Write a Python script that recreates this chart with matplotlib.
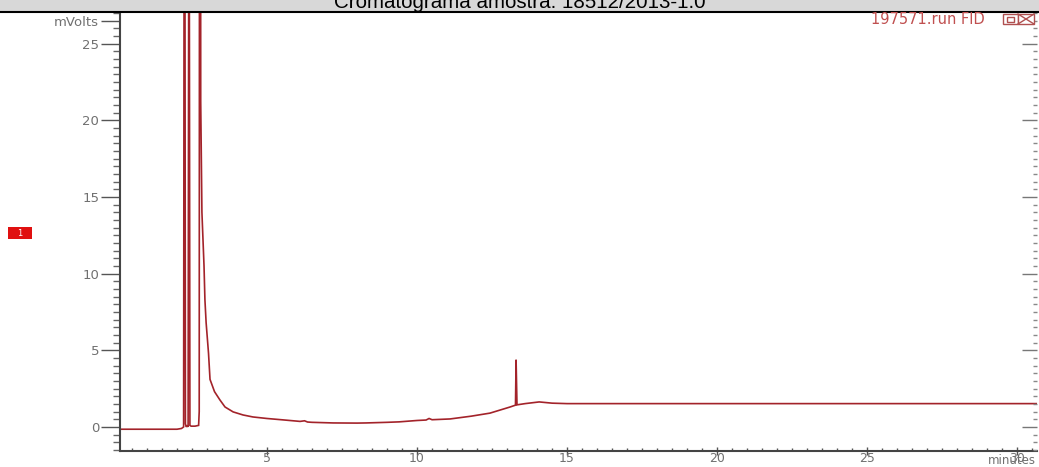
import matplotlib
matplotlib.use("Agg")
import matplotlib.pyplot as plt
from matplotlib.patches import Rectangle
from matplotlib.lines import Line2D
from matplotlib.ticker import MultipleLocator

# FID trace, minutes vs mVolts (peaks at 2.3-2.8 min run off scale)
time_min = [0.1, 1.0, 2.0, 2.15, 2.22, 2.25, 2.28, 2.31, 2.34, 2.37, 2.40, 2.43, 2.47,
            2.60, 2.72, 2.74, 2.77, 2.79, 2.83, 2.90, 2.93, 2.97, 3.05, 3.10, 3.25,
            3.43, 3.60, 3.87, 4.20, 4.53, 5.00, 5.53, 6.10, 6.25, 6.35, 6.50, 7.20,
            8.00, 8.30, 9.00, 9.40, 10.00, 10.30, 10.40, 10.50, 11.10, 11.80, 12.43,
            13.10, 13.28, 13.30, 13.33, 13.60, 14.07, 14.50, 15.00, 20.00, 25.00, 30.66]
signal_mv = [-0.15, -0.15, -0.15, -0.1, 0.0, 60.0, 0.2, 0.0, 0.1, 0.0, 45.0, 0.1, 0.05,
             0.05, 0.1, 1.0, 120.0, 21.2, 14.0, 10.5, 8.3, 6.8, 4.8, 3.1, 2.3,
             1.76, 1.3, 0.98, 0.78, 0.65, 0.55, 0.46, 0.36, 0.40, 0.32, 0.30, 0.26,
             0.25, 0.26, 0.30, 0.33, 0.42, 0.45, 0.55, 0.47, 0.52, 0.70, 0.90,
             1.30, 1.42, 4.38, 1.44, 1.52, 1.63, 1.55, 1.52, 1.52, 1.52, 1.52]

title = "Cromatograma amostra: 18512/2013-1.0"
run_label = "197571.run FID"
y_major = [0, 5, 10, 15, 20, 25, 26.5]
y_major_labels = ["0", "5", "10", "15", "20", "25", "mVolts"]
x_major = [5, 10, 15, 20, 25, 30]

W, H = 1039, 467
fig = plt.figure(figsize=(W / 100, H / 100), dpi=100)
lab = "#707070"

# header bar
fig.patches.append(Rectangle((0, 1 - 12 / H), 1, 12 / H, transform=fig.transFigure,
                             facecolor="#d8d8d8", edgecolor="none", zorder=0))
fig.lines.append(Line2D([0, 1], [1 - 12 / H, 1 - 12 / H], transform=fig.transFigure,
                        color="black", lw=1.5))
fig.text(0.5, 1 - 8 / H, title, ha="center", va="baseline", fontsize=14.8,
         family="Liberation Sans", color="black")

ax = fig.add_axes([120 / W, 16 / H, 917 / W, 439 / H])
ax.plot(time_min, signal_mv, color="#a3232a", lw=1.2, solid_joinstyle="miter")
ax.set_xlim(0.1, 30.66)
ax.set_ylim(-1.57, 27.06)

for s in ["top", "right"]:
    ax.spines[s].set_visible(False)
for s in ["left", "bottom"]:
    ax.spines[s].set_color("#444444")
    ax.spines[s].set_linewidth(1.5)

ax.set_yticks(y_major)
ax.set_yticklabels(y_major_labels)
ax.yaxis.set_minor_locator(MultipleLocator(0.5))
ax.tick_params(axis="y", which="major", direction="out", length=14, width=1,
               color="#555555", labelsize=9.5, labelcolor=lab, pad=1)
ax.tick_params(axis="y", which="minor", direction="out", length=5, width=1,
               color="#666666")
ax.set_xticks(x_major)
ax.xaxis.set_minor_locator(MultipleLocator(0.5))
ax.tick_params(axis="x", which="major", direction="inout", length=6, width=1,
               color="#555555", labelsize=9, labelcolor=lab, pad=-2)
ax.tick_params(axis="x", which="minor", direction="in", length=2, width=1,
               color="#555555")

# inward ticks along the right edge
rax = ax.twinx()
rax.set_ylim(ax.get_ylim())
rax.set_yticks(y_major[:-1])
rax.yaxis.set_minor_locator(MultipleLocator(0.5))
rax.tick_params(axis="y", which="major", direction="in", length=11, width=1,
               color="#777777", labelright=False)
rax.tick_params(axis="y", which="minor", direction="in", length=3, width=1,
               color="#888888")
for s in rax.spines.values():
    s.set_visible(False)

fig.text(1036 / W, 0.0, "minutes", ha="right", va="bottom",
         fontsize=8.5, color=lab)
fig.text(985 / W, 1 - 20 / H, run_label, ha="right", va="center", fontsize=10.5,
         color="#c05050")

# window buttons
btn = "#b05050"
fig.patches.append(Rectangle((1003 / W, 1 - 24 / H), 15 / W, 10 / H,
                             transform=fig.transFigure, facecolor="white",
                             edgecolor=btn, lw=1))
fig.patches.append(Rectangle((1007 / W, 1 - 21.5 / H), 7 / W, 5 / H,
                             transform=fig.transFigure, facecolor="white",
                             edgecolor=btn, lw=1))
fig.patches.append(Rectangle((1018 / W, 1 - 24 / H), 16 / W, 10 / H,
                             transform=fig.transFigure, facecolor="white",
                             edgecolor=btn, lw=1))
fig.lines.append(Line2D([1018 / W, 1034 / W], [1 - 24 / H, 1 - 14 / H],
                        transform=fig.transFigure, color=btn, lw=1))
fig.lines.append(Line2D([1018 / W, 1034 / W], [1 - 14 / H, 1 - 24 / H],
                        transform=fig.transFigure, color=btn, lw=1))

# channel marker
fig.patches.append(Rectangle((8 / W, 1 - 239 / H), 24 / W, 12 / H,
                             transform=fig.transFigure, facecolor="#e01010",
                             edgecolor="none"))
fig.text(20 / W, 1 - 233 / H, "1", ha="center", va="center", fontsize=6,
         color="white")

fig.savefig("out.png", dpi=100)
